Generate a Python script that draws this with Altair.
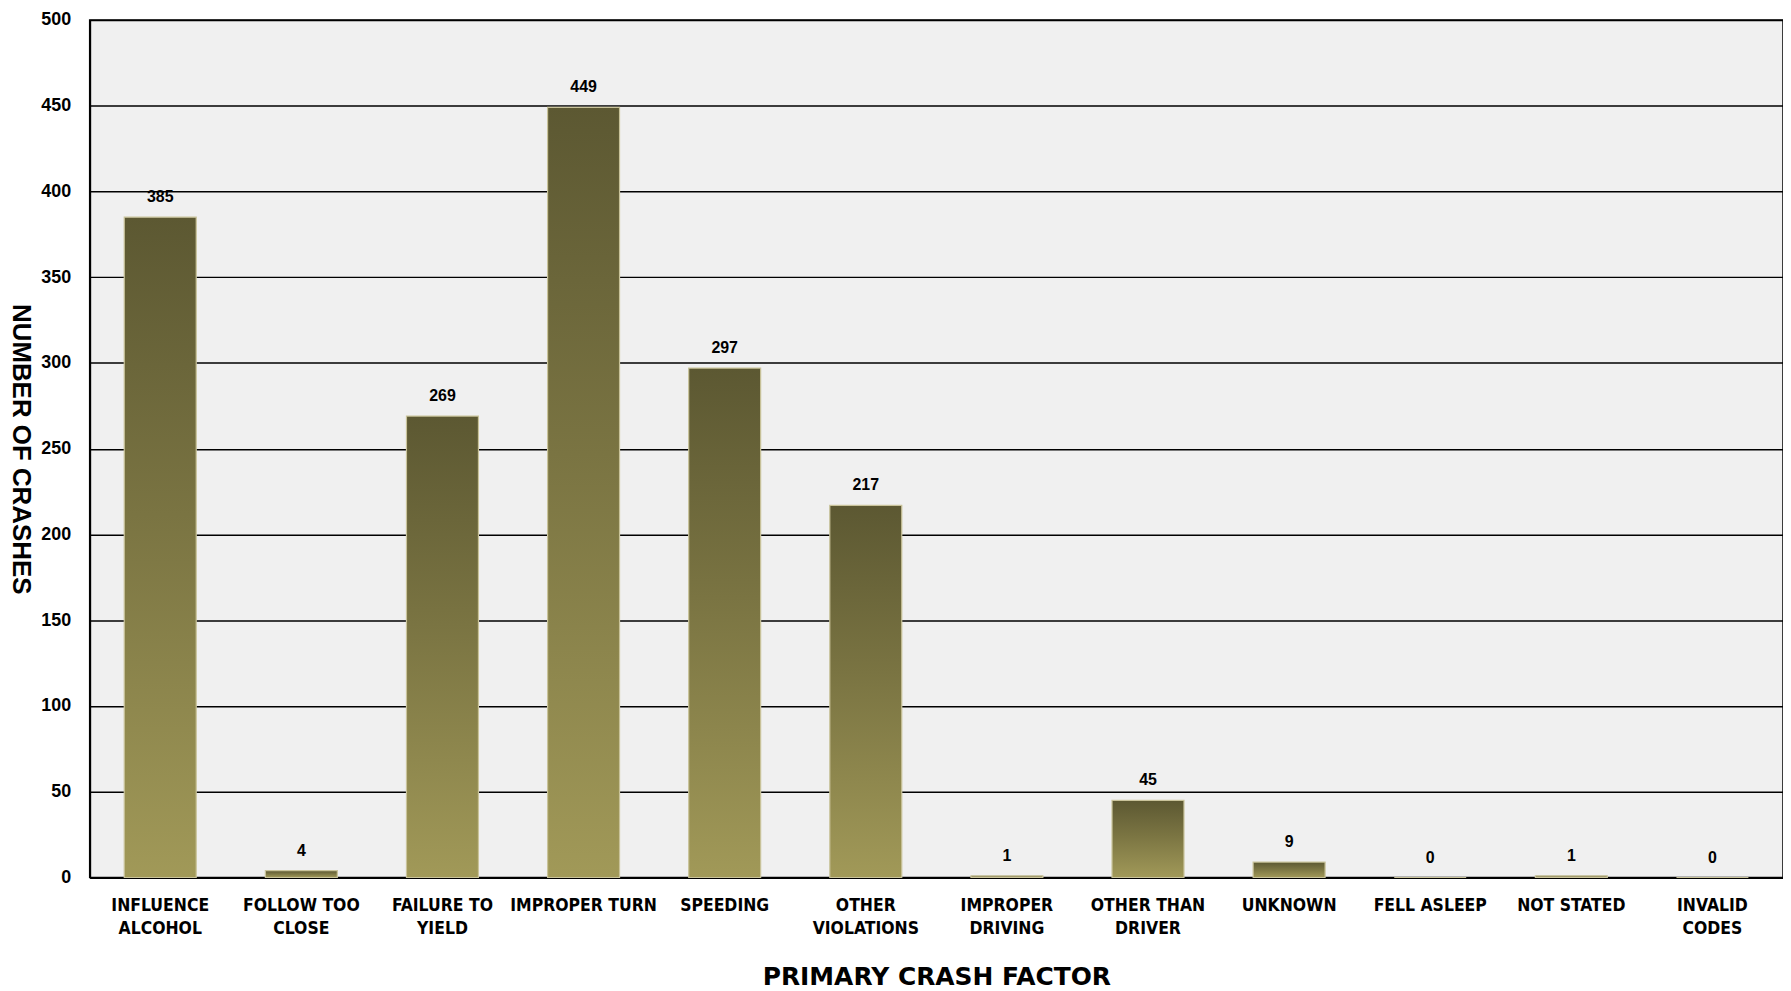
import altair as alt
import pandas as pd

categories = ["INFLUENCE|ALCOHOL", "FOLLOW TOO|CLOSE", "FAILURE TO|YIELD", "IMPROPER TURN",
              "SPEEDING", "OTHER|VIOLATIONS", "IMPROPER|DRIVING", "OTHER THAN|DRIVER",
              "UNKNOWN", "FELL ASLEEP", "NOT STATED", "INVALID|CODES"]
values = [385, 4, 269, 449, 297, 217, 1, 45, 9, 0, 1, 0]

df = pd.DataFrame({"factor": categories, "crashes": values})

LABEL_FONT = "Liberation Sans Narrow, DejaVu Sans Condensed, Liberation Sans"
TITLE_FONT = "DejaVu Sans"
NUM_FONT = "Liberation Sans"

x = alt.X("factor:N", sort=categories,
          scale=alt.Scale(paddingInner=0.49, paddingOuter=0.245),
          axis=alt.Axis(title="PRIMARY CRASH FACTOR", labelAngle=0,
                        labelExpr="split(datum.label, '|')",
                        labelFont=LABEL_FONT, labelFontSize=17.5, labelFontWeight="bold",
                        labelColor="black", labelPadding=19, labelLineHeight=23,
                        labelLimit=200,
                        tickSize=0, domainColor="black", domainWidth=2,
                        titleFont=TITLE_FONT, titleFontSize=25, titleFontWeight="bold",
                        titleColor="black", titlePadding=28))
y = alt.Y("crashes:Q", scale=alt.Scale(domain=[0, 500], nice=False),
          axis=alt.Axis(title="NUMBER OF CRASHES", values=list(range(0, 501, 50)),
                        labelFont=NUM_FONT, labelFontSize=18, labelFontWeight="bold",
                        labelColor="black", labelPadding=19, tickSize=0,
                        domainColor="black", domainWidth=2,
                        gridColor="black", gridWidth=1.5, grid=True,
                        titleFont=NUM_FONT, titleFontSize=26, titleFontWeight="bold",
                        titleColor="black", titleAngle=90, titleBaseline="bottom",
                        titleX=-82, titlePadding=20))

grad = alt.Gradient(gradient="linear", x1=0, y1=0, x2=0, y2=1,
                    stops=[alt.GradientStop(color="#5c5832", offset=0),
                           alt.GradientStop(color="#7a7442", offset=0.45),
                           alt.GradientStop(color="#a19958", offset=1)])

bars = alt.Chart(df).mark_bar(color=grad, stroke="#c9c39a", strokeWidth=1.2).encode(x=x, y=y)

text = alt.Chart(df).mark_text(baseline="bottom", dy=-12, font=NUM_FONT, fontSize=16,
                               fontWeight="bold", color="black").encode(
    x=alt.X("factor:N", sort=categories), y="crashes:Q", text="crashes:Q")

chart = (bars + text).properties(
    width=1700, height=861,
    autosize=alt.AutoSizeParams(type="none"),
    padding={"left": 82, "top": 10, "right": 0, "bottom": 111},
    background="white",
).configure_view(fill="#f0f0f0", stroke="black", strokeWidth=1.5)

chart.save("out.html", embed_options={"renderer": "svg", "actions": False})
